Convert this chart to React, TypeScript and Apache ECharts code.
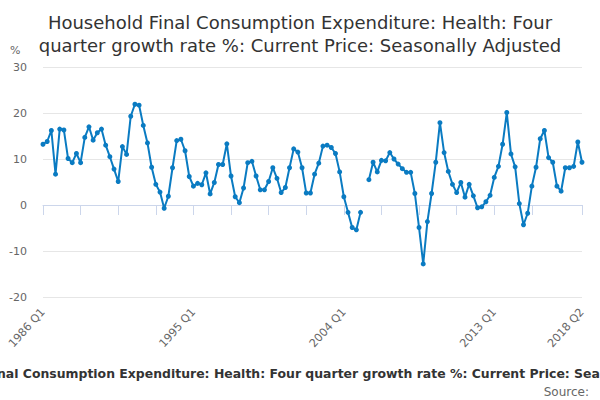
import { useEffect, useRef } from 'react';
import * as echarts from 'echarts';

const TITLE = 'Household Final Consumption Expenditure: Health: Four\nquarter growth rate %: Current Price: Seasonally Adjusted';
const SERIES_NAME =
  'Household Final Consumption Expenditure: Health: Four quarter growth rate %: Current Price: Seasonally Adjusted';

// quarters 1986 Q1 .. 2018 Q2
const quarters: string[] = [];
for (let y = 1986; y <= 2018; y++) {
  for (let q = 1; q <= 4; q++) {
    if (y === 2018 && q > 2) break;
    quarters.push(`${y} Q${q}`);
  }
}

const labelQuarters = ['1986 Q1', '1995 Q1', '2004 Q1', '2013 Q1', '2018 Q2'];

// four quarter growth rate, % (null = no data)
const growth: (number | null)[] = [
  13.2, 13.8, 16.2, 6.7, 16.5, 16.3, 10.1, 9.2, 11.2, 9.2,
  14.7, 17.0, 14.1, 15.7, 16.5, 13.0, 10.5, 7.8, 5.1, 12.7,
  11.0, 19.3, 21.9, 21.7, 17.3, 13.5, 8.2, 4.5, 2.8, -0.7,
  1.9, 8.1, 14.0, 14.3, 11.8, 6.2, 4.1, 4.7, 4.4, 7.0,
  2.4, 4.9, 8.8, 8.8, 13.3, 6.3, 1.8, 0.5, 3.7, 9.2,
  9.5, 6.3, 3.3, 3.3, 5.1, 8.1, 5.8, 2.7, 3.8, 8.1,
  12.2, 11.5, 8.1, 2.6, 2.6, 6.7, 9.1, 12.8, 13.0, 12.5,
  11.2, 7.2, 1.8, -1.6, -4.9, -5.4, -1.6, null, 5.5, 9.3,
  7.2, 9.7, 9.6, 11.4, 10.0, 8.9, 7.9, 7.1, 7.1, 2.5,
  -4.9, -12.8, -3.6, 2.5, 9.3, 17.9, 11.4, 7.3, 4.5, 2.7,
  4.9, 1.7, 4.5, 2.0, -0.6, -0.4, 0.7, 2.1, 6.0, 8.4,
  13.2, 20.1, 11.1, 8.3, 0.3, -4.3, -1.8, 4.1, 8.2, 14.4,
  16.2, 10.3, 9.3, 4.1, 3.0, 8.1, 8.1, 8.4, 13.7, 9.3,
];

const FONT = 'DejaVu Sans';

export default function App() {
  const chartRef = useRef<HTMLDivElement>(null);

  useEffect(() => {
    if (!chartRef.current) return;
    const chart = echarts.init(chartRef.current, undefined, { renderer: 'svg' });
    const last = quarters.length - 1;
    chart.setOption({
      animation: false,
      backgroundColor: '#fff',
      title: {
        text: TITLE,
        left: 'center',
        top: 6,
        textStyle: { fontFamily: FONT, fontSize: 18, fontWeight: 'normal', color: '#333', lineHeight: 23 },
      },
      grid: { left: 43, right: 18, top: 67, bottom: 103 },
      xAxis: {
        type: 'category',
        data: quarters,
        boundaryGap: false,
        axisLine: { lineStyle: { color: '#ccd6eb' } },
        axisTick: {
          length: 10,
          lineStyle: { color: '#ccd6eb' },
          interval: (i: number) => (i % 9 === 0 && i !== 126) || i === last,
        },
        axisLabel: {
          interval: (i: number, v: string) => labelQuarters.includes(v),
          rotate: 48,
          margin: 13,
          color: '#666',
          fontSize: 11.2,
          fontFamily: FONT,
          hideOverlap: false,
        },
        splitLine: { show: false },
      },
      yAxis: {
        type: 'value',
        min: -20,
        max: 30,
        interval: 10,
        axisLine: { show: false },
        axisTick: { show: false },
        axisLabel: { color: '#666', fontSize: 11, fontFamily: FONT, margin: 16 },
        splitLine: { lineStyle: { color: '#e6e6e6' } },
      },
      graphic: [
        {
          type: 'text',
          left: 10,
          top: 45,
          style: { text: '%', fill: '#666', fontSize: 11, fontFamily: FONT },
        },
        {
          type: 'text',
          x: 311,
          y: 373,
          style: {
            text: SERIES_NAME,
            fill: '#333',
            fontSize: 12.45,
            fontWeight: 'bold',
            fontFamily: FONT,
            align: 'center',
            verticalAlign: 'middle',
          },
        },
        {
          type: 'text',
          x: 589,
          y: 392,
          style: {
            text: 'Source:',
            fill: '#666',
            fontSize: 12,
            fontFamily: FONT,
            align: 'right',
            verticalAlign: 'middle',
          },
        },
      ],
      series: [
        {
          name: SERIES_NAME,
          type: 'line',
          data: growth,
          connectNulls: false,
          symbol: 'circle',
          symbolSize: 5,
          showAllSymbol: true,
          lineStyle: { width: 2, color: '#0a7bc2' },
          itemStyle: { color: '#0a7bc2' },
        },
      ],
    });
    return () => chart.dispose();
  }, []);

  return (
    <div
      ref={chartRef}
      style={{ position: 'fixed', left: 0, top: 0, width: 600, height: 400 }}
    />
  );
}
